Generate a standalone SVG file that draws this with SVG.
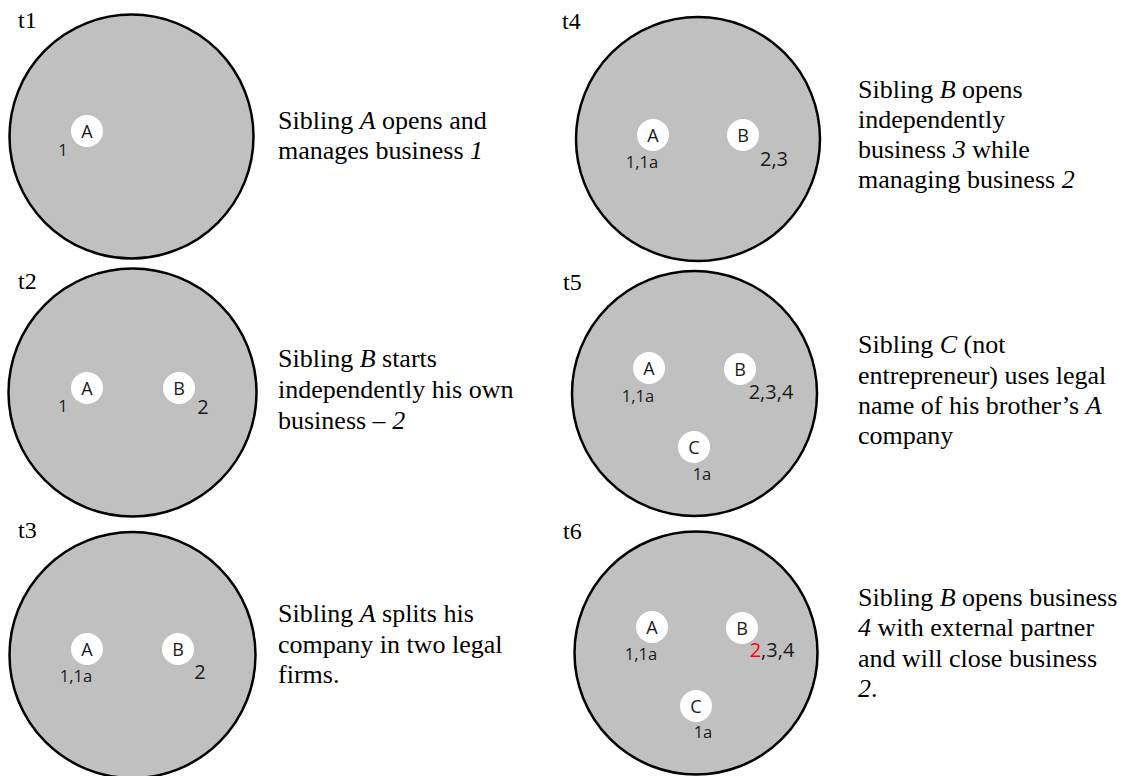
<svg xmlns="http://www.w3.org/2000/svg" width="1133" height="776" viewBox="0 0 1133 776">
  <style>
    .field { fill: #c0c0c0; stroke: #000; stroke-width: 2.5; }
    .sib { fill: #fff; }
    .sib-label { font-family: "Open Sans", "Liberation Sans", sans-serif; font-size: 18px; fill: #1a1a1a; text-anchor: middle; }
    .biz { font-family: "Open Sans", "Liberation Sans", sans-serif; font-size: 16.5px; fill: #1a1a1a; text-anchor: middle; }
    .biz-big { font-family: "Open Sans", "Liberation Sans", sans-serif; font-size: 20px; fill: #1a1a1a; text-anchor: middle; }
    .step { font-family: "Liberation Serif", "Times New Roman", serif; font-size: 24px; fill: #000; }
    .desc { font-family: "Liberation Serif", "Times New Roman", serif; font-size: 26px; fill: #000; }
    .em { font-style: italic; }
    .closing { fill: #ff0000; }
  </style>
  <rect width="1133" height="776" fill="#fff"/>

  <!-- t1 -->
  <g id="t1">
    <text class="step" x="18" y="28">t1</text>
    <circle class="field" cx="131.5" cy="136.5" r="122"/>
    <g id="t1-A">
      <circle class="sib" cx="87" cy="131" r="16"/>
      <text class="sib-label" x="87" y="137.5">A</text>
    </g>
    <text class="biz" x="63" y="156">1</text>
    <text class="desc" x="278" y="129">Sibling <tspan class="em">A</tspan> opens and</text>
    <text class="desc" x="278" y="159">manages business <tspan class="em">1</tspan></text>
  </g>

  <!-- t2 -->
  <g id="t2">
    <text class="step" x="18" y="289">t2</text>
    <circle class="field" cx="132.5" cy="392.5" r="124"/>
    <g id="t2-A">
      <circle class="sib" cx="87" cy="388" r="16"/>
      <text class="sib-label" x="87" y="394.5">A</text>
    </g>
    <g id="t2-B">
      <circle class="sib" cx="179" cy="388" r="16"/>
      <text class="sib-label" x="179" y="394.5">B</text>
    </g>
    <text class="biz" x="63" y="412">1</text>
    <text class="biz-big" x="203" y="414">2</text>
    <text class="desc" x="278" y="367">Sibling <tspan class="em">B</tspan> starts</text>
    <text class="desc" x="278" y="398">independently his own</text>
    <text class="desc" x="278" y="429">business – <tspan class="em">2</tspan></text>
  </g>

  <!-- t3 -->
  <g id="t3">
    <text class="step" x="18" y="538">t3</text>
    <circle class="field" cx="132.5" cy="655" r="123"/>
    <g id="t3-A">
      <circle class="sib" cx="87" cy="649" r="16"/>
      <text class="sib-label" x="87" y="655.5">A</text>
    </g>
    <g id="t3-B">
      <circle class="sib" cx="178" cy="649" r="16"/>
      <text class="sib-label" x="178" y="655.5">B</text>
    </g>
    <text class="biz" x="76" y="682">1,1a</text>
    <text class="biz-big" x="200" y="679">2</text>
    <text class="desc" x="278" y="622">Sibling <tspan class="em">A</tspan> splits his</text>
    <text class="desc" x="278" y="653">company in two legal</text>
    <text class="desc" x="278" y="683">firms.</text>
  </g>

  <!-- t4 -->
  <g id="t4">
    <text class="step" x="562" y="29">t4</text>
    <circle class="field" cx="698" cy="139" r="122"/>
    <g id="t4-A">
      <circle class="sib" cx="653" cy="135" r="16"/>
      <text class="sib-label" x="653" y="141.5">A</text>
    </g>
    <g id="t4-B">
      <circle class="sib" cx="743" cy="135" r="16"/>
      <text class="sib-label" x="743" y="141.5">B</text>
    </g>
    <text class="biz" x="642" y="168">1,1a</text>
    <text class="biz-big" x="774" y="166">2,3</text>
    <text class="desc" x="858" y="98">Sibling <tspan class="em">B</tspan> opens</text>
    <text class="desc" x="858" y="128">independently</text>
    <text class="desc" x="858" y="158">business <tspan class="em">3</tspan> while</text>
    <text class="desc" x="858" y="188">managing business <tspan class="em">2</tspan></text>
  </g>

  <!-- t5 -->
  <g id="t5">
    <text class="step" x="563" y="290">t5</text>
    <circle class="field" cx="694.5" cy="393.5" r="122.5"/>
    <g id="t5-A">
      <circle class="sib" cx="649" cy="368" r="16"/>
      <text class="sib-label" x="649" y="374.5">A</text>
    </g>
    <g id="t5-B">
      <circle class="sib" cx="740" cy="369" r="16"/>
      <text class="sib-label" x="740" y="375.5">B</text>
    </g>
    <g id="t5-C">
      <circle class="sib" cx="694" cy="447" r="16"/>
      <text class="sib-label" x="694" y="453.5">C</text>
    </g>
    <text class="biz" x="638" y="402">1,1a</text>
    <text class="biz-big" x="771" y="399">2,3,4</text>
    <text class="biz" x="702" y="480">1a</text>
    <text class="desc" x="858" y="353">Sibling <tspan class="em">C</tspan> (not</text>
    <text class="desc" x="858" y="384">entrepreneur) uses legal</text>
    <text class="desc" x="858" y="414">name of his brother’s <tspan class="em">A</tspan></text>
    <text class="desc" x="858" y="444">company</text>
  </g>

  <!-- t6 -->
  <g id="t6">
    <text class="step" x="563" y="539">t6</text>
    <circle class="field" cx="696" cy="653" r="121.5"/>
    <g id="t6-A">
      <circle class="sib" cx="652" cy="627" r="16"/>
      <text class="sib-label" x="652" y="633.5">A</text>
    </g>
    <g id="t6-B">
      <circle class="sib" cx="742" cy="628" r="16"/>
      <text class="sib-label" x="742" y="634.5">B</text>
    </g>
    <g id="t6-C">
      <circle class="sib" cx="696" cy="706" r="16"/>
      <text class="sib-label" x="696" y="712.5">C</text>
    </g>
    <text class="biz" x="641" y="660">1,1a</text>
    <text class="biz-big" x="772" y="657"><tspan class="closing">2</tspan>,3,4</text>
    <text class="biz" x="703" y="738">1a</text>
    <text class="desc" x="858" y="606">Sibling <tspan class="em">B</tspan> opens business</text>
    <text class="desc" x="858" y="636"><tspan class="em">4</tspan> with external partner</text>
    <text class="desc" x="858" y="667">and will close business</text>
    <text class="desc" x="858" y="697"><tspan class="em">2</tspan>.</text>
  </g>

  <!-- no connectors in this figure -->
  <g id="connectors"/>
</svg>
